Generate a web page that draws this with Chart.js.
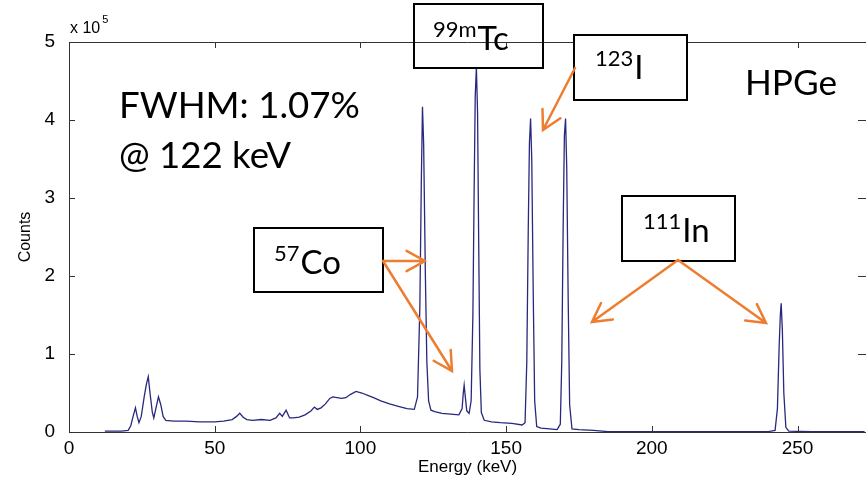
<!DOCTYPE html>
<html>
<head>
<meta charset="utf-8">
<script src="https://cdn.jsdelivr.net/npm/chart.js@4.4.1/dist/chart.umd.min.js"></script>
<style>
  html, body { margin: 0; padding: 0; background: #fff; overflow: hidden; }
</style>
</head>
<body>
<canvas id="spectrum" width="866" height="482"></canvas>
<script>
// HPGe spectrum, counts in units of 1e5
const energy = [12.3, 18, 20.3, 21.2, 22.0, 22.8, 23.4, 24.0, 24.8, 25.8, 26.6, 27.2, 27.8, 28.6, 29.1, 29.8, 30.7, 31.5, 32.3, 33.2,
  36, 40, 45, 50, 53, 56, 57.5, 58.6, 59.8, 61, 63, 66, 69, 71, 72.3, 73.2, 74.5, 75.7, 77, 79,
  81, 83, 84.2, 85.2, 86.5, 88, 89.5, 90.5, 92, 93.5, 95, 96.5, 98.5, 100.5, 102.5, 104.5, 107, 110, 113, 116,
  118.5, 119.6, 120.4, 120.9, 121.3, 121.7, 122.3, 122.8, 123.4, 124.2, 125.5, 128, 131, 133.8,
  134.9, 135.3, 135.6, 136.0, 136.5, 137.3, 138.0, 138.6, 139.0, 139.4, 139.8, 140.2, 140.6, 141.0, 141.5, 142.5,
  145, 148, 152, 155.5, 156.5, 157.1, 157.6, 158.0, 158.4, 158.8, 159.3, 159.8, 160.5, 162, 165, 167.5,
  168.6, 169.1, 169.6, 170.0, 170.4, 170.8, 171.3, 171.8, 172.6, 175, 180, 185, 200, 220, 240,
  242.3, 243.1, 243.7, 244.1, 244.4, 244.8, 245.3, 246.0, 247, 255, 273]
const counts = [0.01, 0.01, 0.02, 0.08, 0.2, 0.31, 0.2, 0.12, 0.2, 0.45, 0.62, 0.71, 0.5, 0.25, 0.18, 0.3, 0.45, 0.35, 0.2, 0.15,
  0.14, 0.14, 0.13, 0.13, 0.14, 0.16, 0.2, 0.24, 0.19, 0.16, 0.15, 0.16, 0.15, 0.18, 0.24, 0.2, 0.28, 0.18, 0.18, 0.19,
  0.22, 0.27, 0.32, 0.29, 0.31, 0.36, 0.43, 0.45, 0.44, 0.43, 0.44, 0.48, 0.52, 0.5, 0.47, 0.44, 0.4, 0.36, 0.33, 0.3,
  0.29, 0.45, 1.6, 3.2, 4.17, 3.7, 2.0, 0.9, 0.4, 0.28, 0.26, 0.24, 0.23, 0.22,
  0.3, 0.5, 0.6, 0.45, 0.27, 0.24, 0.4, 1.5, 3.0, 4.3, 4.68, 4.1, 2.4, 0.8, 0.25, 0.15,
  0.13, 0.12, 0.11, 0.09, 0.12, 0.9, 2.6, 3.7, 4.02, 3.5, 1.8, 0.4, 0.07, 0.05, 0.04, 0.03,
  0.1, 0.9, 2.7, 3.8, 4.02, 3.4, 1.7, 0.35, 0.04, 0.03, 0.02, 0.005, 0.005, 0.005, 0.006,
  0.02, 0.3, 1.1, 1.5, 1.65, 1.3, 0.5, 0.06, 0.01, 0.005, 0.005]

const xTicks = [0, 50, 100, 150, 200, 250]
const yTicks = [0, 1, 2, 3, 4, 5]

const axisColor = "#333"
const orange = "#ED7D31"
const labelFont = "Lato, 'Open Sans', sans-serif"
const axisFamily = "'Liberation Sans', Arial, sans-serif"

// font size so that text fills the given width
function fitSize(ctx, text, width, family){
  ctx.font = "100px " + family
  return 100 * width / ctx.measureText(text).width
}

function arrow(ctx, x1, y1, x2, y2){
  const a = Math.atan2(y2 - y1, x2 - x1)
  const len = 21, spread = 0.5
  ctx.beginPath()
  ctx.moveTo(x1, y1)
  ctx.lineTo(x2, y2)
  ctx.moveTo(x2 - len * Math.cos(a - spread), y2 - len * Math.sin(a - spread))
  ctx.lineTo(x2, y2)
  ctx.lineTo(x2 - len * Math.cos(a + spread), y2 - len * Math.sin(a + spread))
  ctx.stroke()
}

// isotope label: superscript mass number + symbol
function isoBox(ctx, box, sup, sym, tx, base){
  ctx.lineWidth = 2
  ctx.strokeStyle = "#000"
  ctx.strokeRect(box[0], box[1], box[2] - box[0], box[3] - box[1])
  ctx.fillStyle = "#000"
  ctx.textBaseline = "alphabetic"
  ctx.textAlign = "left"
  ctx.font = "22px " + labelFont
  ctx.fillText(sup, tx, base - 13)
  const w = ctx.measureText(sup).width
  ctx.font = "33px " + labelFont
  ctx.fillText(sym, tx + w + 1, base)
}

const frame = {
  id: "frame",
  afterDraw(c){
    const ctx = c.ctx
    const {left, right, top, bottom} = c.chartArea
    const xs = c.scales.x, ys = c.scales.y
    ctx.save()
    ctx.strokeStyle = axisColor
    ctx.lineWidth = 1
    ctx.beginPath()
    ctx.moveTo(left + 0.5, top + 0.5)
    ctx.lineTo(left + 0.5, bottom + 0.5)
    ctx.lineTo(right, bottom + 0.5)
    ctx.moveTo(left, top + 0.5)
    ctx.lineTo(right, top + 0.5)
    // inward ticks
    xTicks.forEach(v => {
      const px = Math.round(xs.getPixelForValue(v)) + 0.5
      ctx.moveTo(px, bottom); ctx.lineTo(px, bottom - 6)
      ctx.moveTo(px, top); ctx.lineTo(px, top + 6)
    })
    yTicks.forEach(v => {
      const py = Math.round(ys.getPixelForValue(v)) + 0.5
      ctx.moveTo(left, py); ctx.lineTo(left + 6, py)
      ctx.moveTo(right, py); ctx.lineTo(right - 8, py)
    })
    ctx.stroke()

    // x 10^5 multiplier
    ctx.fillStyle = "#000"
    ctx.textAlign = "left"
    ctx.textBaseline = "alphabetic"
    ctx.font = "16px " + axisFamily
    ctx.fillText("x 10", 70, 33)
    const mw = ctx.measureText("x 10").width
    ctx.font = "11px " + axisFamily
    ctx.fillText("5", 70 + mw + 2, 23)

    // big text
    let s = fitSize(ctx, "FWHM: 1.07%", 241, labelFont)
    ctx.font = s + "px " + labelFont
    ctx.fillText("FWHM: 1.07%", 119, 118)
    ctx.fillText("@ 122 keV", 119, 168)
    s = fitSize(ctx, "HPGe", 92, labelFont)
    ctx.font = s + "px " + labelFont
    ctx.fillText("HPGe", 745, 95)

    // isotope boxes
    ctx.fillStyle = "#fff"
    ctx.fillRect(574, 35, 113, 65)
    isoBox(ctx, [414, 4, 543, 68], "99m", "Tc", 433, 50)
    isoBox(ctx, [574, 35, 687, 100], "123", "I", 595, 79)
    isoBox(ctx, [254, 228, 383, 292], "57", "Co", 274, 274)
    isoBox(ctx, [622, 196, 735, 261], "111", "In", 643, 242)

    // arrows
    ctx.strokeStyle = orange
    ctx.lineWidth = 2.5
    ctx.lineCap = "round"
    arrow(ctx, 383, 261, 425, 261)
    arrow(ctx, 383, 261, 452, 371)
    arrow(ctx, 575, 68, 543, 130)
    arrow(ctx, 678, 260, 592, 322)
    arrow(ctx, 678, 260, 766, 323)
    ctx.restore()
  }
}

const tickFont = {family: axisFamily, size: 19}

spectrumChart = new Chart(document.getElementById("spectrum"), {
  type: "line",
  data: {
    datasets: [{
      data: energy.map((e, i) => ({x: e, y: counts[i]})),
      borderColor: "#28287d",
      borderWidth: 1.3,
      pointRadius: 0,
      fill: false,
      tension: 0
    }]
  },
  options: {
    responsive: false,
    animation: false,
    layout: {padding: {top: 42, right: 0, left: 0, bottom: 0}},
    plugins: {legend: {display: false}, tooltip: {enabled: false}},
    scales: {
      x: {
        type: "linear",
        min: 0,
        max: 273.5,
        afterFit: s => { s.height = 50 },
        afterBuildTicks: s => { s.ticks = xTicks.map(v => ({value: v})) },
        grid: {display: false},
        border: {display: false},
        ticks: {font: tickFont, color: "#000", padding: -3, maxRotation: 0},
        title: {display: true, text: "Energy (keV)", color: "#000",
          font: {family: axisFamily, size: 17}, padding: {top: 0, bottom: 4}}
      },
      y: {
        min: 0,
        max: 5,
        afterFit: s => { s.width = 69 },
        afterBuildTicks: s => { s.ticks = yTicks.map(v => ({value: v})) },
        grid: {display: false},
        border: {display: false},
        ticks: {font: tickFont, color: "#000", padding: 6},
        title: {display: true, text: "Counts", color: "#000",
          font: {family: axisFamily, size: 16}, padding: {top: 16, bottom: 0}}
      }
    }
  },
  plugins: [frame]
})
</script>
</body>
</html>
